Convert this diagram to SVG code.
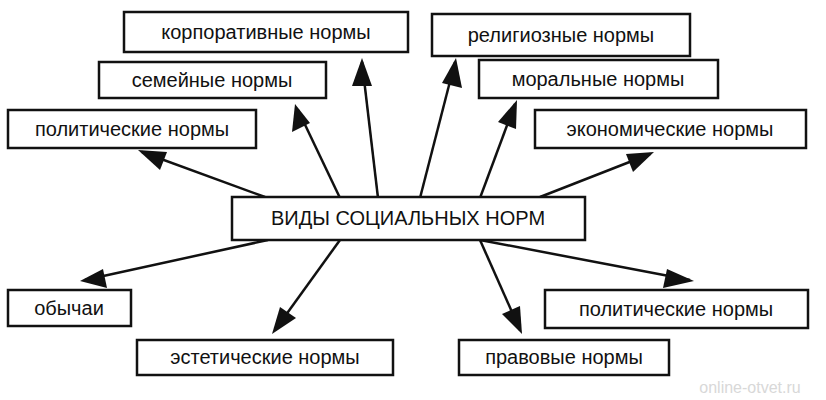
<svg xmlns="http://www.w3.org/2000/svg" width="826" height="400" viewBox="0 0 826 400">
<style>
rect{fill:#fff;stroke:#111;stroke-width:2.5}
text{font-family:"Liberation Sans",Arial,sans-serif;font-size:20px;fill:#111;text-anchor:middle;dominant-baseline:central}
.c line{stroke:#111;stroke-width:2.5;marker-end:url(#a)}
</style>
<defs><marker id="a" viewBox="0 0 10 10" refX="9" refY="5" markerWidth="9" markerHeight="7" markerUnits="userSpaceOnUse" orient="auto"><path d="M0,0L10,5L0,10Z" fill="#111"/></marker></defs>
<rect x="0" y="0" width="826" height="400" style="stroke:none"/>
<g class="c">
<line x1="378" y1="198" x2="362" y2="62" style="marker-end:none"/><polygon points="362,58 352,86 372,86" fill="#111"/>
<line x1="420" y1="198" x2="455" y2="62" style="marker-end:none"/><polygon points="456,58 442,83 462,88" fill="#111"/>
<line x1="340" y1="198" x2="298" y2="110" style="marker-end:none"/><polygon points="295,104 292,132 310,123" fill="#111"/>
<line x1="480" y1="198" x2="515" y2="104" style="marker-end:none"/><polygon points="517,100 498,122 516,129" fill="#111"/>
<line x1="265" y1="197" x2="142" y2="152" style="marker-end:none"/><polygon points="138,150 160,170 167,152" fill="#111"/>
<line x1="540" y1="197" x2="650" y2="154" style="marker-end:none"/><polygon points="654,152 626,154 633,172" fill="#111"/>
<line x1="268" y1="240" x2="85" y2="280" style="marker-end:none"/><polygon points="80,281 107,288 103,269" fill="#111"/>
<line x1="480" y1="240" x2="690" y2="280" style="marker-end:none"/><polygon points="694,281 667,269 663,288" fill="#111"/>
<line x1="340" y1="240" x2="275" y2="330" style="marker-end:none"/><polygon points="272,334 296,318 280,307" fill="#111"/>
<line x1="480" y1="240" x2="520" y2="330" style="marker-end:none"/><polygon points="522,334 520,306 502,314" fill="#111"/>
</g>
<g id="n1"><rect x="124" y="12" width="284" height="40"/><text x="266" y="32">корпоративные нормы</text></g>
<g id="n2"><rect x="432" y="14" width="258" height="42"/><text x="561" y="35">религиозные нормы</text></g>
<g id="n3"><rect x="99" y="62" width="227" height="36"/><text x="212" y="80">семейные нормы</text></g>
<g id="n4"><rect x="479" y="60" width="239" height="38"/><text x="598" y="79">моральные нормы</text></g>
<g id="n5"><rect x="8" y="110" width="248" height="38"/><text x="132" y="129">политические нормы</text></g>
<g id="n6"><rect x="535" y="110" width="271" height="38"/><text x="670" y="129">экономические нормы</text></g>
<g id="center"><rect x="232" y="197" width="353" height="43"/><text x="408" y="218">ВИДЫ СОЦИАЛЬНЫХ НОРМ</text></g>
<g id="n7"><rect x="8" y="290" width="123" height="36"/><text x="69" y="308">обычаи</text></g>
<g id="n8"><rect x="545" y="290" width="263" height="38"/><text x="676" y="309">политические нормы</text></g>
<g id="n9"><rect x="137" y="340" width="256" height="35"/><text x="265" y="357">эстетические нормы</text></g>
<g id="n10"><rect x="459" y="340" width="210" height="35"/><text x="564" y="357">правовые нормы</text></g>
<text x="750" y="387" style="fill:#d8d8d8;font-size:16px">online-otvet.ru</text>
</svg>
